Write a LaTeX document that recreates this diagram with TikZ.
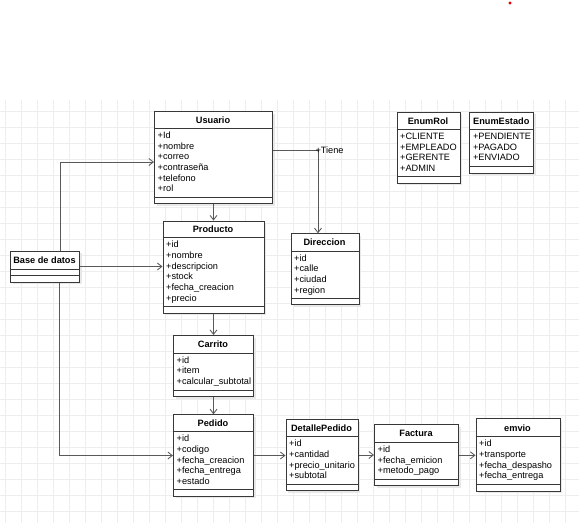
\documentclass[tikz,border=0pt]{standalone}
\usepackage{fontspec}
\setmainfont{Liberation Sans}
\usetikzlibrary{arrows.meta,calc}
% #1 name, #2 left, #3 top, #4 width, #5 header height, #6 total height, #7 title, #8 items
\newcommand\umlclass[8]{%
  \fill[shadowc] (#2+2.5,#3+2.5) rectangle (#2+#4+2.5,#3+#6+2.5);
  \node[classbox, minimum width=#4pt, minimum height=#6pt, anchor=north west] (#1) at (#2,#3) {};
  \node[titletext] (#1-title) at (#2+#4/2,#3+#5/2+0.3) {#7};
  \draw[boxline] (#2,#3+#5) -- (#2+#4,#3+#5);
  \draw[boxline] (#2,#3+#6-6) -- (#2+#4,#3+#6-6);
  \node[attr, anchor=base west] (#1-attrs) at (#2+3.5,#3+#5+10) {\begin{tabular}[t]{@{}l@{}}#8\end{tabular}};
}
\begin{document}
\begin{tikzpicture}[x=1pt,y=-1pt,
  gridline/.style={draw=black!7, line width=0.8pt},
  shadowc/.style={fill=black!9},
  classbox/.style={draw=black!78, fill=white, line width=1pt, inner sep=0pt},
  boxline/.style={draw=black!78, line width=1pt},
  titletext/.style={font=\fontsize{9.2}{10.7}\selectfont\bfseries, inner sep=0pt, text height=6.6pt, text depth=0pt},
  attr/.style={font=\fontsize{9.2}{10.7}\selectfont, inner sep=0pt},
  conn/.style={draw=black!65, line width=0.85pt, -{Straight Barb[length=4.5pt,width=7pt]}},
  lbl/.style={font=\fontsize{9.2}{10.7}\selectfont, inner sep=0pt}
]
\useasboundingbox (0,0) rectangle (579,523);
\fill[white] (0,0) rectangle (579,523);
\foreach \i in {0,...,35} \draw[gridline] (5+16*\i,100) -- (5+16*\i,523);
\foreach \j in {0,...,25} \draw[gridline] (0,111+16*\j) -- (579,111+16*\j);
\fill[red!90!black] (510,3) circle (1.7);

\umlclass{usuario}{154}{111}{118}{17.3}{92}{Usuario}{+Id\\+nombre\\+correo\\+contraseña\\+telefono\\+rol}
\umlclass{producto}{162.5}{220.5}{101}{17.2}{92}{Producto}{+id\\+nombre\\+descripcion\\+stock\\+fecha\_creacion\\+precio}
\umlclass{base}{10}{250.5}{69}{18.5}{31}{Base de datos}{}
\umlclass{direccion}{290.5}{233.3}{68}{17.7}{71}{Direccion}{+id\\+calle\\+ciudad\\+region}
\umlclass{enumrol}{396.5}{111.5}{63}{17.8}{71.2}{EnumRol}{+CLIENTE\\+EMPLEADO\\+GERENTE\\+ADMIN}
\umlclass{enumestado}{469.3}{111.5}{64}{17.8}{61}{EnumEstado}{+PENDIENTE\\+PAGADO\\+ENVIADO}
\umlclass{carrito}{173}{335}{80}{18.2}{61}{Carrito}{+id\\+item\\+calcular\_subtotal}
\umlclass{pedido}{173}{414.3}{80}{17.4}{81.4}{Pedido}{+id\\+codigo\\+fecha\_creacion\\+fecha\_entrega\\+estado}
\umlclass{detalle}{285.5}{419}{72}{17.7}{71}{DetallePedido}{+id\\+cantidad\\+precio\_unitario\\+subtotal}
\umlclass{factura}{374}{424.3}{84}{18}{61}{Factura}{+id\\+fecha\_emicion\\+metodo\_pago}
\umlclass{emvio}{475.5}{418.3}{84}{18.4}{72.4}{emvio}{+id\\+transporte\\+fecha\_despasho\\+fecha\_entrega}

\draw[conn] (base.north -| 60,0) |- (usuario.west |- 0,162);
\draw[conn] (base.east) -- (base.east -| producto.west);
\draw[conn] (base.south -| 59,0) |- (pedido.west);
\draw[conn] (usuario.south) -- (producto.north);
\draw[conn] (usuario.east |- 0,150.7) -| (direccion.north -| 318,0);
\node[lbl, anchor=west] (tiene) at (315.3,150.2) {+Tiene};
\draw[conn] (producto.south) -- (carrito.north);
\draw[conn] (carrito.south) -- (pedido.north);
\draw[conn] (pedido.east) -- (pedido.east -| detalle.west);
\draw[conn] (detalle.east) -- (detalle.east -| factura.west);
\draw[conn] (factura.east) -- (factura.east -| emvio.west);
\end{tikzpicture}
\end{document}
